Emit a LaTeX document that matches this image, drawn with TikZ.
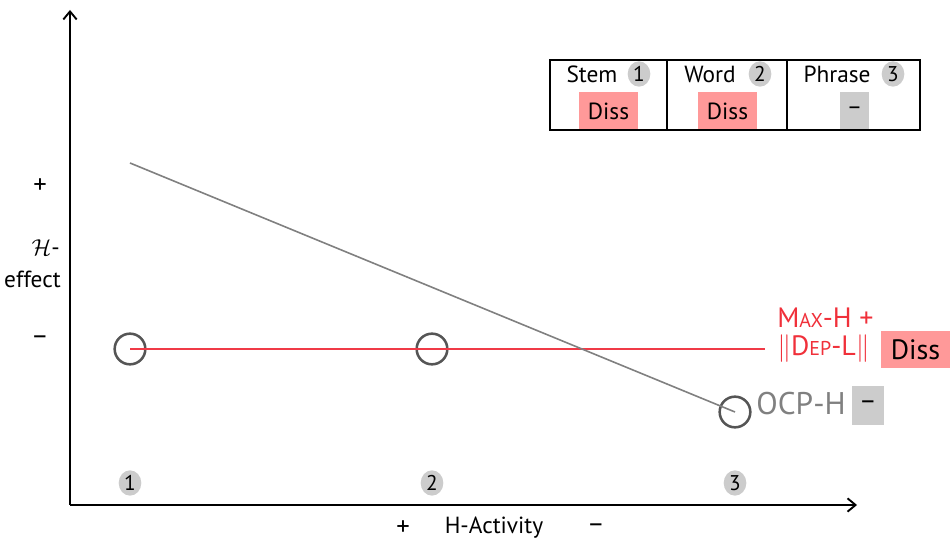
\documentclass[tikz,border=0pt]{standalone}
\usepackage{fontspec}
\setmainfont{PT Sans}
\usetikzlibrary{arrows.meta,shapes.geometric}
\definecolor{pinkbox}{HTML}{FF9999}
\definecolor{graybox}{HTML}{CCCCCC}
\definecolor{redline}{HTML}{F03A47}
\definecolor{redtext}{HTML}{F0303A}
\definecolor{circ}{HTML}{555555}
\newcommand{\fsc}[2]{#1{\fontsize{15}{17}\selectfont #2}}
\tikzset{
  badge/.style={ellipse,fill=graybox,inner sep=0pt,minimum width=17pt,minimum height=19pt,font=\fontsize{16}{17}\selectfont},
  ring/.style={circle,draw=circ,line width=1.9pt,minimum size=23pt,inner sep=0pt},
  lbl/.style={font=\fontsize{17.5}{20}\selectfont,inner sep=0pt},
  sign/.style={font=\fontsize{20}{22}\selectfont,inner sep=0pt},
  axis/.style={line width=1.6pt,-{Straight Barb[length=6pt,width=10pt,line width=1.4pt]}},
}
\begin{document}
\begin{tikzpicture}[x=0.75pt,y=-0.75pt]
\useasboundingbox (0,0) rectangle (950,541);
% axes
\coordinate (O) at (70,505);
\coordinate (ytop) at (70,10);
\coordinate (xend) at (857,505);
\draw[axis] (O) -- (ytop);
\draw[axis] (O) -- (xend);
% y labels
\node[sign] (yp) at (40,186) {+};
\node[lbl,anchor=east] (yh) at (60,248) {$\mathcal{H}$-};
\node[lbl,anchor=east] (ye) at (61,279) {effect};
\node[sign] (ym) at (40,340) {–};
% x labels
\node[sign] (xp) at (403,528) {+};
\node[lbl] (xa) at (494,528) {H-Activity};
\node[sign] (xm) at (596,528) {–};
% rings
\node[ring] (c1) at (130,349) {};
\node[ring] (c2) at (432,349) {};
\node[ring] (c3) at (735,412) {};
\coordinate (rend) at (765,349);
\coordinate (gstart) at (130,163);
\draw[redline,line width=1.2pt] (c1.center) -- (rend);
\draw[gray,line width=1.2pt] (gstart) -- (c3.center);
% badges
\node[badge] (b1) at (130,483) {1};
\node[badge] (b2) at (432,483) {2};
\node[badge] (b3) at (735,483) {3};
% right labels
\node[text=redtext,font=\fontsize{21}{21.5}\selectfont,inner sep=0pt,align=left,anchor=west] (mx) at (777,335) {\fsc{M}{AX}-H +\\$\|$\fsc{D}{EP}-L$\|$};
\node[fill=pinkbox,font=\fontsize{21}{23}\selectfont,minimum width=52pt,minimum height=28pt,inner sep=0pt] (dz) at (915.5,349.5) {Diss};
\node[text=gray,font=\fontsize{23.5}{25}\selectfont,inner sep=0pt] (ocp) at (801,404) {OCP-H};
\node[fill=graybox,font=\fontsize{20}{22}\selectfont,minimum width=24pt,minimum height=29pt,inner sep=0pt] (dash) at (868,405.5) {–};
% table
\draw[line width=0.8pt] (550,60) rectangle (920,130);
\draw[line width=0.8pt] (667,60) -- (667,130);
\draw[line width=0.8pt] (787,60) -- (787,130);
\node[lbl] (t1) at (592,74) {Stem};
\node[badge] (tb1) at (639,74) {1};
\node[lbl] (t2) at (710,74) {Word};
\node[badge] (tb2) at (760,74) {2};
\node[lbl] (t3) at (837,74) {Phrase};
\node[badge] (tb3) at (893,74) {3};
\node[fill=pinkbox,lbl,minimum width=44.5pt,minimum height=28pt] (d1) at (608.5,111) {Diss};
\node[fill=pinkbox,lbl,minimum width=44.5pt,minimum height=28pt] (d2) at (727.5,111) {Diss};
\node[fill=graybox,lbl,minimum width=22pt,minimum height=28pt] (d3) at (854.5,111) {–};
\draw[line width=0.8pt] (550,130) -- (920,130);
\end{tikzpicture}
\end{document}
